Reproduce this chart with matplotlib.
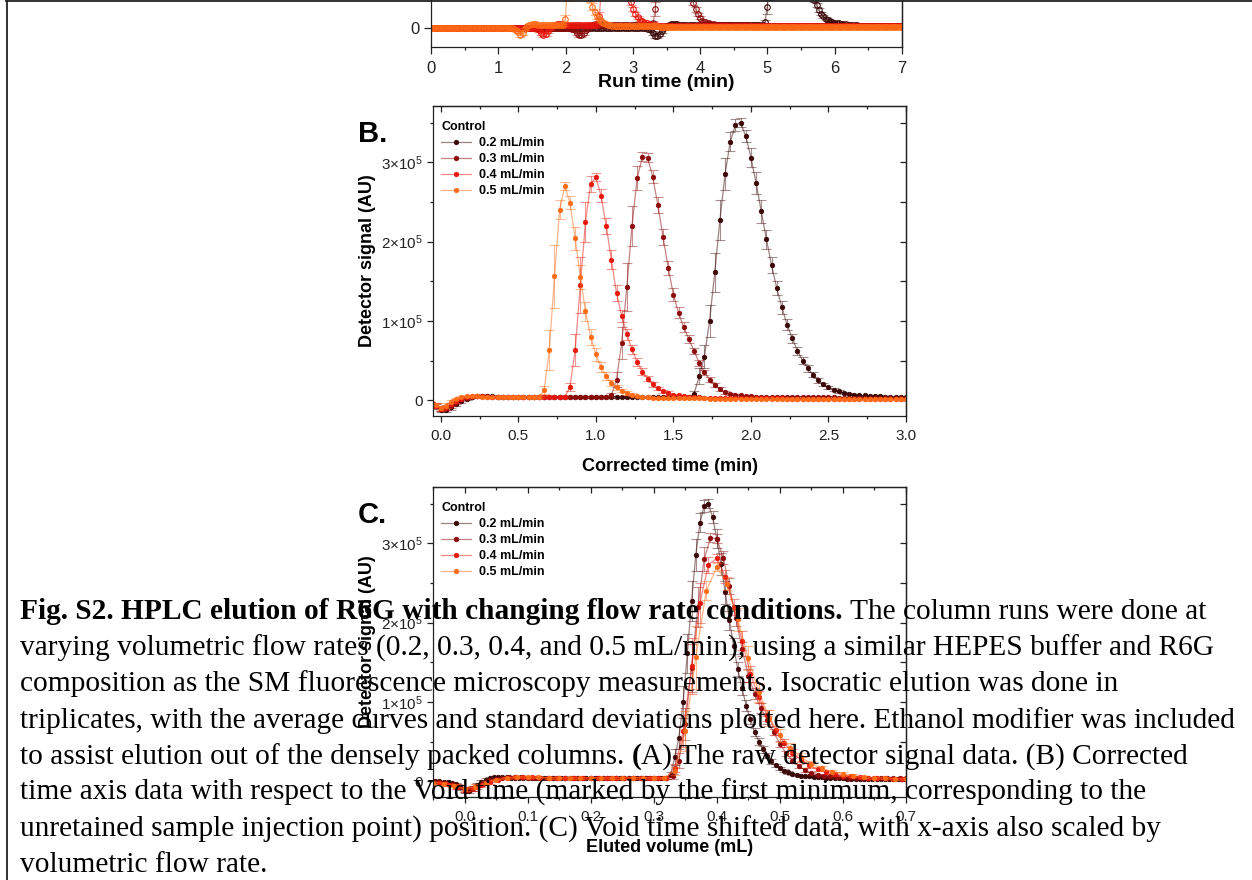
import numpy as np
import matplotlib
matplotlib.use("Agg")
import matplotlib.pyplot as plt
from matplotlib.colors import to_rgba
from matplotlib.lines import Line2D
from matplotlib.ticker import MultipleLocator, FuncFormatter, FormatStrFormatter

plt.rcParams["font.family"] = "Liberation Sans"
plt.rcParams["mathtext.fontset"] = "custom"
plt.rcParams["mathtext.rm"] = "Liberation Sans"
plt.rcParams["mathtext.it"] = "Liberation Sans:italic"
plt.rcParams["mathtext.bf"] = "Liberation Sans:bold"
plt.rcParams["axes.linewidth"] = 0.9

# ---- data (signal in units of 1e5 AU) ----
LABELS = ["0.2 mL/min", "0.3 mL/min", "0.4 mL/min", "0.5 mL/min"]
FLOW_RATES = [0.2, 0.3, 0.4, 0.5]          # mL/min
VOID_TIMES = [3.33, 2.20, 1.67, 1.33]      # min, first minimum of the raw run
COLORS = ["#3a0606", "#8c0b0b", "#e8170d", "#ff6b16"]

# corrected time grid, one sample every 2 s
T_CORR = np.arange(-8, 106) / 30.0

SIG_02 = [
    0.00, 0.00, 0.00, -0.01, -0.01, -0.02, -0.04, -0.08, -0.12, -0.12,
    -0.09, -0.05, -0.01, 0.02, 0.04, 0.05, 0.05, 0.05, 0.05, 0.04,
    0.04, 0.04, 0.04, 0.04, 0.04, 0.04, 0.04, 0.04, 0.04, 0.04,
    0.04, 0.04, 0.04, 0.04, 0.04, 0.04, 0.04, 0.04, 0.04, 0.04,
    0.04, 0.04, 0.04, 0.04, 0.04, 0.04, 0.04, 0.04, 0.04, 0.04,
    0.04, 0.04, 0.04, 0.04, 0.04, 0.04, 0.04, 0.08, 0.30, 0.55,
    1.00, 1.61, 2.27, 2.85, 3.26, 3.47, 3.50, 3.33, 3.06, 2.74,
    2.38, 2.03, 1.70, 1.41, 1.17, 0.95, 0.78, 0.62, 0.50, 0.40,
    0.32, 0.25, 0.20, 0.16, 0.13, 0.11, 0.09, 0.08, 0.07, 0.06,
    0.06, 0.05, 0.05, 0.05, 0.04, 0.04, 0.04, 0.04, 0.04, 0.03,
    0.03, 0.03, 0.03, 0.03, 0.03, 0.03, 0.03, 0.03, 0.03, 0.03,
    0.03, 0.03, 0.03, 0.03,
]
SD_02 = [
    0.00, 0.00, 0.00, 0.01, 0.01, 0.01, 0.02, 0.03, 0.03, 0.03,
    0.03, 0.03, 0.02, 0.02, 0.01, 0.01, 0.01, 0.01, 0.01, 0.01,
    0.01, 0.01, 0.01, 0.01, 0.01, 0.01, 0.01, 0.01, 0.01, 0.01,
    0.01, 0.01, 0.01, 0.01, 0.01, 0.01, 0.01, 0.01, 0.01, 0.01,
    0.01, 0.01, 0.01, 0.01, 0.01, 0.01, 0.01, 0.01, 0.01, 0.01,
    0.01, 0.01, 0.01, 0.01, 0.01, 0.01, 0.01, 0.03, 0.10, 0.15,
    0.20, 0.25, 0.25, 0.20, 0.12, 0.08, 0.06, 0.08, 0.12, 0.14,
    0.14, 0.12, 0.10, 0.09, 0.08, 0.07, 0.06, 0.05, 0.04, 0.04,
    0.03, 0.03, 0.02, 0.02, 0.02, 0.02, 0.01, 0.01, 0.01, 0.01,
    0.01, 0.01, 0.01, 0.01, 0.01, 0.01, 0.01, 0.01, 0.01, 0.01,
    0.01, 0.01, 0.01, 0.01, 0.01, 0.01, 0.01, 0.01, 0.01, 0.01,
    0.01, 0.01, 0.01, 0.01,
]

SIG_03 = [
    0.00, 0.00, 0.00, 0.00, -0.01, -0.02, -0.04, -0.07, -0.11, -0.10,
    -0.07, -0.03, 0.01, 0.03, 0.04, 0.05, 0.05, 0.05, 0.04, 0.04,
    0.04, 0.04, 0.04, 0.04, 0.04, 0.04, 0.04, 0.04, 0.04, 0.04,
    0.04, 0.04, 0.04, 0.04, 0.04, 0.04, 0.04, 0.04, 0.04, 0.04,
    0.04, 0.06, 0.26, 0.72, 1.43, 2.20, 2.80, 3.07, 3.06, 2.82,
    2.46, 2.06, 1.67, 1.33, 1.10, 0.92, 0.77, 0.62, 0.47, 0.35,
    0.26, 0.19, 0.14, 0.10, 0.08, 0.07, 0.06, 0.05, 0.05, 0.04,
    0.04, 0.04, 0.04, 0.04, 0.04, 0.04, 0.04, 0.04, 0.04, 0.04,
    0.04, 0.04, 0.04, 0.04, 0.04, 0.03, 0.03, 0.03, 0.03, 0.03,
    0.03, 0.03, 0.03, 0.03, 0.03, 0.03, 0.03, 0.03, 0.03, 0.03,
    0.03, 0.03, 0.03, 0.03, 0.03, 0.03, 0.03, 0.03, 0.03, 0.03,
    0.03, 0.03, 0.03, 0.03,
]
SD_03 = [
    0.00, 0.00, 0.00, 0.01, 0.01, 0.01, 0.02, 0.03, 0.03, 0.03,
    0.03, 0.02, 0.02, 0.01, 0.01, 0.01, 0.01, 0.01, 0.01, 0.01,
    0.01, 0.01, 0.01, 0.01, 0.01, 0.01, 0.01, 0.01, 0.01, 0.01,
    0.01, 0.01, 0.01, 0.01, 0.01, 0.01, 0.01, 0.01, 0.01, 0.01,
    0.01, 0.03, 0.10, 0.20, 0.30, 0.25, 0.15, 0.06, 0.06, 0.08,
    0.10, 0.10, 0.09, 0.08, 0.07, 0.06, 0.05, 0.04, 0.04, 0.03,
    0.03, 0.02, 0.02, 0.02, 0.01, 0.01, 0.01, 0.01, 0.01, 0.01,
    0.01, 0.01, 0.01, 0.01, 0.01, 0.01, 0.01, 0.01, 0.01, 0.01,
    0.01, 0.01, 0.01, 0.01, 0.01, 0.01, 0.01, 0.01, 0.01, 0.01,
    0.01, 0.01, 0.01, 0.01, 0.01, 0.01, 0.01, 0.01, 0.01, 0.01,
    0.01, 0.01, 0.01, 0.01, 0.01, 0.01, 0.01, 0.01, 0.01, 0.01,
    0.01, 0.01, 0.01, 0.01,
]

SIG_04 = [
    0.00, 0.00, 0.00, 0.00, -0.01, -0.02, -0.04, -0.07, -0.11, -0.09,
    -0.05, -0.01, 0.02, 0.04, 0.05, 0.05, 0.05, 0.04, 0.04, 0.04,
    0.04, 0.04, 0.04, 0.04, 0.04, 0.04, 0.04, 0.04, 0.04, 0.04,
    0.04, 0.04, 0.04, 0.17, 0.63, 1.45, 2.25, 2.73, 2.81, 2.58,
    2.20, 1.77, 1.35, 1.06, 0.83, 0.64, 0.48, 0.36, 0.27, 0.20,
    0.15, 0.11, 0.09, 0.07, 0.06, 0.05, 0.04, 0.04, 0.04, 0.03,
    0.03, 0.03, 0.03, 0.03, 0.03, 0.03, 0.03, 0.03, 0.03, 0.03,
    0.03, 0.03, 0.03, 0.03, 0.03, 0.02, 0.02, 0.02, 0.02, 0.02,
    0.02, 0.02, 0.02, 0.02, 0.02, 0.02, 0.02, 0.02, 0.02, 0.02,
    0.02, 0.02, 0.02, 0.02, 0.02, 0.02, 0.02, 0.02, 0.02, 0.02,
    0.02, 0.02, 0.02, 0.02, 0.02, 0.02, 0.02, 0.02, 0.02, 0.02,
    0.02, 0.02, 0.02, 0.02,
]
SD_04 = [
    0.00, 0.00, 0.00, 0.01, 0.01, 0.01, 0.02, 0.03, 0.03, 0.03,
    0.02, 0.02, 0.01, 0.01, 0.01, 0.01, 0.01, 0.01, 0.01, 0.01,
    0.01, 0.01, 0.01, 0.01, 0.01, 0.01, 0.01, 0.01, 0.01, 0.01,
    0.01, 0.01, 0.01, 0.05, 0.20, 0.35, 0.25, 0.10, 0.05, 0.08,
    0.10, 0.12, 0.10, 0.08, 0.07, 0.06, 0.05, 0.04, 0.03, 0.03,
    0.02, 0.02, 0.02, 0.01, 0.01, 0.01, 0.01, 0.01, 0.01, 0.01,
    0.01, 0.01, 0.01, 0.01, 0.01, 0.01, 0.01, 0.01, 0.01, 0.01,
    0.01, 0.01, 0.01, 0.01, 0.01, 0.01, 0.01, 0.01, 0.01, 0.01,
    0.01, 0.01, 0.01, 0.01, 0.01, 0.01, 0.01, 0.01, 0.01, 0.01,
    0.01, 0.01, 0.01, 0.01, 0.01, 0.01, 0.01, 0.01, 0.01, 0.01,
    0.01, 0.01, 0.01, 0.01, 0.01, 0.01, 0.01, 0.01, 0.01, 0.01,
    0.01, 0.01, 0.01, 0.01,
]

SIG_05 = [
    0.00, 0.00, 0.00, 0.00, -0.01, -0.02, -0.03, -0.06, -0.10, -0.07,
    -0.02, 0.02, 0.04, 0.05, 0.05, 0.05, 0.04, 0.04, 0.04, 0.04,
    0.04, 0.04, 0.04, 0.04, 0.04, 0.04, 0.04, 0.04, 0.13, 0.63,
    1.56, 2.40, 2.70, 2.49, 2.04, 1.55, 1.12, 0.80, 0.58, 0.42,
    0.30, 0.22, 0.16, 0.12, 0.09, 0.07, 0.05, 0.04, 0.04, 0.03,
    0.03, 0.03, 0.03, 0.03, 0.03, 0.03, 0.03, 0.03, 0.03, 0.03,
    0.02, 0.02, 0.02, 0.02, 0.02, 0.02, 0.02, 0.02, 0.02, 0.02,
    0.01, 0.01, 0.01, 0.01, 0.01, 0.01, 0.01, 0.01, 0.01, 0.01,
    0.01, 0.01, 0.01, 0.01, 0.01, 0.01, 0.01, 0.01, 0.01, 0.01,
    0.01, 0.01, 0.01, 0.01, 0.01, 0.01, 0.01, 0.01, 0.01, 0.01,
    0.01, 0.01, 0.01, 0.01, 0.01, 0.01, 0.01, 0.01, 0.01, 0.01,
    0.01, 0.01, 0.01, 0.01,
]
SD_05 = [
    0.00, 0.00, 0.00, 0.01, 0.01, 0.01, 0.02, 0.02, 0.03, 0.03,
    0.02, 0.01, 0.01, 0.01, 0.01, 0.01, 0.01, 0.01, 0.01, 0.01,
    0.01, 0.01, 0.01, 0.01, 0.01, 0.01, 0.01, 0.01, 0.05, 0.25,
    0.40, 0.12, 0.05, 0.08, 0.15, 0.15, 0.12, 0.10, 0.08, 0.06,
    0.05, 0.04, 0.03, 0.02, 0.02, 0.02, 0.01, 0.01, 0.01, 0.01,
    0.01, 0.01, 0.01, 0.01, 0.01, 0.01, 0.01, 0.01, 0.01, 0.01,
    0.01, 0.01, 0.01, 0.01, 0.01, 0.01, 0.01, 0.01, 0.01, 0.01,
    0.01, 0.01, 0.01, 0.01, 0.01, 0.01, 0.01, 0.01, 0.01, 0.01,
    0.01, 0.01, 0.01, 0.01, 0.01, 0.01, 0.01, 0.01, 0.01, 0.01,
    0.01, 0.01, 0.01, 0.01, 0.01, 0.01, 0.01, 0.01, 0.01, 0.01,
    0.01, 0.01, 0.01, 0.01, 0.01, 0.01, 0.01, 0.01, 0.01, 0.01,
    0.01, 0.01, 0.01, 0.01,
]

SIGNALS = [SIG_02, SIG_03, SIG_04, SIG_05]
SDS = [SD_02, SD_03, SD_04, SD_05]

CAPTION = [
    [("Fig. S2. HPLC elution of R6G with changing flow rate conditions.", "bold"),
     ("The column runs were done at", "normal")],
    [("varying volumetric flow rates (0.2, 0.3, 0.4, and 0.5 mL/min), using a similar HEPES buffer and R6G", "normal")],
    [("composition as the SM fluorescence microscopy measurements. Isocratic elution was done in", "normal")],
    [("triplicates, with the average curves and standard deviations plotted here. Ethanol modifier was included", "normal")],
    [("to assist elution out of the densely packed columns.", "normal"), ("(", "bold"),
     ("A) The raw detector signal data. (B) Corrected", "normal")],
    [("time axis data with respect to the Void time (marked by the first minimum, corresponding to the", "normal")],
    [("unretained sample injection point) position. (C) Void time shifted data, with x-axis also scaled by", "normal")],
    [("volumetric flow rate.", "normal")],
]

W, H = 1252, 880
fig = plt.figure(figsize=(W / 100, H / 100), dpi=100)
fig.patch.set_facecolor("white")


def px_axes(left, top, right, bottom):
    return fig.add_axes([left / W, 1 - bottom / H, (right - left) / W, (bottom - top) / H])


def sci_label(v, pos):
    n = v / 1e5
    if abs(n) < 1e-6:
        return "0"
    return r"$%d{\times}10^{5}$" % round(n)


def style_axes(ax, xmaj, xmin, ymaj, ymin, fs):
    ax.xaxis.set_major_locator(MultipleLocator(xmaj))
    ax.xaxis.set_minor_locator(MultipleLocator(xmin))
    ax.yaxis.set_major_locator(MultipleLocator(ymaj))
    ax.yaxis.set_minor_locator(MultipleLocator(ymin))
    ax.yaxis.set_major_formatter(FuncFormatter(sci_label))
    ax.tick_params(which="both", direction="out", width=0.9, labelsize=fs, colors="#222222")
    ax.tick_params(which="major", length=4.5)
    ax.tick_params(which="minor", length=2.5)
    ax.tick_params(axis="x", pad=5)
    ax.tick_params(axis="y", pad=3)
    for sp in ax.spines.values():
        sp.set_color("#222222")
    top = ax.secondary_xaxis("top")
    top.xaxis.set_major_locator(MultipleLocator(xmaj))
    top.xaxis.set_minor_locator(MultipleLocator(xmin))
    top.tick_params(which="both", direction="in", labeltop=False, width=0.9, colors="#222222")
    top.tick_params(which="major", length=4)
    top.tick_params(which="minor", length=2.5)
    right = ax.secondary_yaxis("right")
    right.yaxis.set_major_locator(MultipleLocator(ymin))
    right.tick_params(which="both", direction="in", labelright=False, width=0.9, length=4, colors="#222222")


def draw(ax, x, y, sd, color, hollow):
    ax.errorbar(x, y, yerr=sd, fmt="none", ecolor=to_rgba(color, 0.45),
                elinewidth=0.8, capsize=3.5, capthick=0.8)
    line, = ax.plot(x, y, "-o", color=to_rgba(color, 0.5), lw=0.9,
                    ms=4 if hollow else 3.3,
                    mfc="none" if hollow else color, mec=color,
                    mew=0.8 if hollow else 0.5)
    return line


# ---- panel A: raw run time ----
ax_a = px_axes(431, -253, 902, 47)
for sig, sd, void, color in zip(SIGNALS, SDS, VOID_TIMES, COLORS):
    t_core = T_CORR + void
    n_pre = int(round(t_core[0] * 30))
    n_post = int(round((7.0 - t_core[-1]) * 30)) + 1
    t_run = np.concatenate([t_core[0] - np.arange(n_pre, 0, -1) / 30.0, t_core,
                            t_core[-1] + np.arange(1, n_post + 1) / 30.0])
    y = np.concatenate([np.zeros(n_pre), sig, np.full(n_post, sig[-1])]) * 1e5
    e = np.concatenate([np.zeros(n_pre), sd, np.full(n_post, sd[-1])]) * 1e5
    draw(ax_a, t_run, y, e, color, hollow=True)
ax_a.set_xlim(0, 7)
ax_a.set_ylim(-0.277e5, 4.01e5)
style_axes(ax_a, 1, 0.5, 1e5, 0.5e5, 12)
ax_a.xaxis.set_major_formatter(FormatStrFormatter("%d"))
ax_a.tick_params(which="major", length=5)
ax_a.tick_params(axis="x", pad=5)
ax_a.set_xlabel("Run time (min)", fontsize=14, fontweight="bold")
ax_a.xaxis.set_label_coords(0.5, -0.09)

# ---- panels B and C ----
ax_b = px_axes(433, 106, 906, 416)
ax_c = px_axes(433, 487, 906, 797)
handles = []
for sig, sd, flow, color in zip(SIGNALS, SDS, FLOW_RATES, COLORS):
    y = np.array(sig) * 1e5
    e = np.array(sd) * 1e5
    handles.append(draw(ax_b, T_CORR, y, e, color, hollow=False))
    draw(ax_c, T_CORR * flow, y, e, color, hollow=False)

ax_b.set_xlim(-0.05, 3.0)
ax_c.set_xlim(-0.05, 0.7)
for ax, xmaj, xmin, xlabel in [(ax_b, 0.5, 0.25, "Corrected time (min)"),
                               (ax_c, 0.1, 0.05, "Eluted volume (mL)")]:
    ax.set_ylim(-0.2e5, 3.71e5)
    style_axes(ax, xmaj, xmin, 1e5, 0.5e5, 11)
    ax.xaxis.set_major_formatter(FormatStrFormatter("%.1f"))
    ax.set_xlabel(xlabel, fontsize=13, fontweight="bold")
    ax.set_ylabel("Detector signal (AU)", fontsize=13, fontweight="bold")
    ax.xaxis.set_label_coords(0.5, -0.135)
    ax.yaxis.set_label_coords(-0.12, 0.5)
    leg = ax.legend(handles, LABELS, title="Control", loc="upper left",
                    bbox_to_anchor=(0.017, 0.952), frameon=False,
                    prop={"weight": "bold", "size": 9},
                    title_fontproperties={"weight": "bold", "size": 9},
                    alignment="left", handlelength=2.4, handletextpad=0.6,
                    labelspacing=0.33, borderpad=0, borderaxespad=0)

fig.text(358 / W, 1 - 142 / H, "B.", fontsize=21, fontweight="bold", va="baseline")
fig.text(358 / W, 1 - 523 / H, "C.", fontsize=21, fontweight="bold", va="baseline")

# ---- page borders ----
fig.add_artist(Line2D([6.5 / W, 6.5 / W], [0, 1], transform=fig.transFigure, color="#222222", lw=1.3))
fig.add_artist(Line2D([6 / W, 1], [1 - 0.8 / H, 1 - 0.8 / H], transform=fig.transFigure, color="#222222", lw=1.3))

# ---- caption on top ----
renderer = fig.canvas.get_renderer()
cap_kw = dict(fontsize=21.2, family="Liberation Serif", color="black", va="baseline", zorder=10)


def width_px(s, weight):
    t = fig.text(0, 0, s, fontweight=weight, **cap_kw)
    w = t.get_window_extent(renderer).width
    t.remove()
    return w


space_px = width_px("x x", "normal") - width_px("xx", "normal")
for i, segments in enumerate(CAPTION):
    x = 20.0
    base = 619 + 36.2 * i
    for j, (s, weight) in enumerate(segments):
        fig.text(x / W, 1 - base / H, s, fontweight=weight, **cap_kw)
        x += width_px(s, weight)
        if j + 1 < len(segments) and s != "(":
            x += space_px

fig.savefig("out.png", dpi=100)
